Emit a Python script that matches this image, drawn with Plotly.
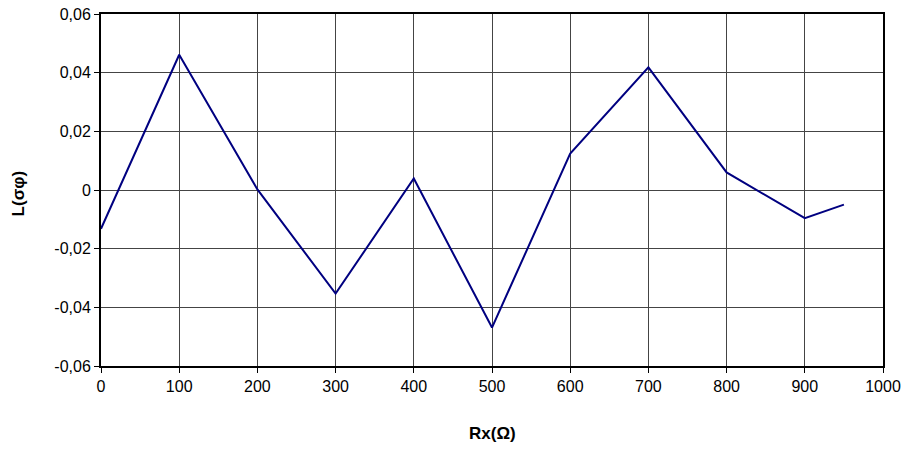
import plotly.graph_objects as go

rx = [0, 100, 200, 300, 400, 500, 600, 700, 800, 900, 950]
l_sigma = [-0.0132, 0.0461, 0.0002, -0.0353, 0.0039, -0.0469, 0.0124, 0.0418, 0.0060, -0.0096, -0.0050]

y_ticks = [-0.06, -0.04, -0.02, 0, 0.02, 0.04, 0.06]
y_labels = ["-0,06", "-0,04", "-0,02", "0", "0,02", "0,04", "0,06"]
x_ticks = [0, 100, 200, 300, 400, 500, 600, 700, 800, 900, 1000]

fig = go.Figure()
fig.add_trace(go.Scatter(x=rx, y=l_sigma, mode="lines",
                         line=dict(color="#000080", width=2), showlegend=False))

font = dict(family="Liberation Sans, Arial, sans-serif", size=16, color="#000")
fig.update_layout(
    width=910, height=449,
    margin=dict(l=101, r=27, t=14, b=83),
    paper_bgcolor="white", plot_bgcolor="white",
    font=font,
    xaxis=dict(range=[0, 1000], tickvals=x_ticks, ticks="outside", ticklen=5,
               tickcolor="#000", showgrid=True, gridcolor="#444", gridwidth=1,
               showline=True, linecolor="#000", linewidth=2, mirror=True,
               zeroline=False, automargin=False),
    yaxis=dict(range=[-0.06, 0.06], tickvals=y_ticks, ticktext=y_labels,
               ticks="outside", ticklen=5, tickcolor="#000",
               showgrid=True, gridcolor="#444", gridwidth=1,
               showline=True, linecolor="#000", linewidth=2, mirror=True,
               zeroline=False, automargin=False),
    annotations=[
        dict(text="<b>Rx(Ω)</b>", xref="paper", yref="paper", x=0.5, y=-0.193,
             xanchor="center", yanchor="middle", showarrow=False,
             font=dict(size=17)),
        dict(text="<b>L(σφ)</b>", xref="paper", yref="paper", x=-0.105, y=0.49,
             xanchor="center", yanchor="middle", showarrow=False, textangle=-90,
             font=dict(size=17)),
    ],
)
fig.write_html("out.html", config={"displayModeBar": False},
               post_script="document.body.style.margin='0';document.body.style.overflow='hidden';")
